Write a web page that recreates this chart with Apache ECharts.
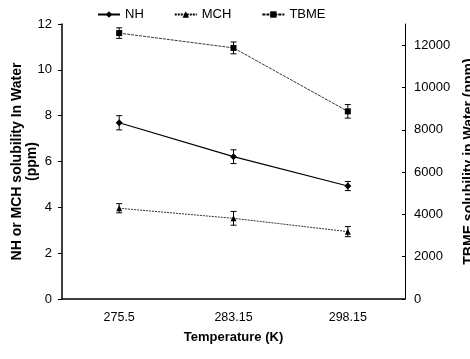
<!DOCTYPE html>
<html>
<head>
<meta charset="utf-8">
<script src="https://cdn.jsdelivr.net/npm/echarts@6/dist/echarts.min.js"></script>
<style>
  html, body { margin: 0; padding: 0; background: #fff; }
  #chart { width: 470px; height: 359px; }
</style>
</head>
<body>
<div id="chart"></div>
<script>
// temperatures (K) on the x axis
const temps = ['275.5', '283.15', '298.15'];
// NH and MCH solubility, ppm (left axis)
const nh = [7.69, 6.21, 4.93];
const nhErr = [0.31, 0.3, 0.2];
const mch = [3.96, 3.52, 2.94];
const mchErr = [0.2, 0.3, 0.22];
// TBME solubility, ppm (right axis)
const tbme = [12570, 11870, 8870];
const tbmeErr = [250, 280, 320];
// tick labels
const leftTicks = [0, 2, 4, 6, 8, 10, 12];
const rightTicks = [0, 2000, 4000, 6000, 8000, 10000, 12000];

const font = 'Liberation Sans, Arial, sans-serif';

// error bar rows: [index, low, high]
function errRows(vals, errs) {
  return vals.map((v, i) => [i, v - errs[i], v + errs[i]]);
}

function errorBar(params, api) {
  const lo = api.coord([api.value(0), api.value(1)]);
  const hi = api.coord([api.value(0), api.value(2)]);
  const w = 3;
  const style = { stroke: '#000', lineWidth: 1 };
  return {
    type: 'group',
    children: [
      { type: 'line', shape: { x1: lo[0], y1: lo[1], x2: hi[0], y2: hi[1] }, style: style },
      { type: 'line', shape: { x1: lo[0] - w, y1: lo[1], x2: lo[0] + w, y2: lo[1] }, style: style },
      { type: 'line', shape: { x1: hi[0] - w, y1: hi[1], x2: hi[0] + w, y2: hi[1] }, style: style }
    ]
  };
}

const chart = echarts.init(document.getElementById('chart'));
const option = {
  animation: false,
  backgroundColor: '#fff',
  textStyle: { fontFamily: font, color: '#000' },
  legend: {
    data: ['NH', 'MCH', 'TBME'],
    top: 3,
    left: 92,
    itemWidth: 22,
    itemHeight: 8,
    itemGap: 30,
    textStyle: { fontFamily: font, fontSize: 13, color: '#000' }
  },
  grid: { left: 62, right: 65, top: 24, bottom: 60, outerBoundsMode: 'none' },
  xAxis: {
    type: 'category',
    data: temps,
    boundaryGap: true,
    name: 'Temperature (K)',
    nameLocation: 'middle',
    nameGap: 32,
    nameTextStyle: { fontFamily: font, fontSize: 13, fontWeight: 'bold', color: '#000' },
    axisLine: { lineStyle: { color: '#000', width: 1.5 } },
    axisTick: { length: 4, lineStyle: { color: '#000' } },
    axisLabel: { fontFamily: font, fontSize: 12.5, color: '#000', margin: 12 }
  },
  yAxis: [
    {
      type: 'value',
      min: 0,
      max: 12,
      interval: 2,
      name: 'NH or MCH solubility In Water\n(ppm)',
      nameLocation: 'middle',
      nameRotate: 90,
      nameGap: 22,
      nameMoveOverlap: false,
      nameTextStyle: { fontFamily: font, fontSize: 14, fontWeight: 'bold', color: '#000', lineHeight: 15 },
      axisLine: { show: true, lineStyle: { color: '#000', width: 1.5 } },
      axisTick: { show: true, length: 4, lineStyle: { color: '#000' } },
      axisLabel: { fontFamily: font, fontSize: 13, color: '#000', margin: 10, customValues: leftTicks },
      splitLine: { show: false }
    },
    {
      type: 'value',
      min: 0,
      max: 13000,
      name: 'TBME solubility in Water (ppm)',
      nameLocation: 'middle',
      nameRotate: 90,
      nameGap: 57,
      nameMoveOverlap: false,
      nameTextStyle: { fontFamily: font, fontSize: 14, fontWeight: 'bold', color: '#000' },
      axisLine: { show: true, lineStyle: { color: '#000', width: 1 } },
      axisTick: { show: true, inside: true, length: 3, lineStyle: { color: '#000' }, customValues: rightTicks },
      axisLabel: {
        fontFamily: font, fontSize: 13, color: '#000', margin: 9, customValues: rightTicks,
        formatter: (v) => String(v)
      },
      splitLine: { show: false }
    }
  ],
  series: [
    {
      name: 'NH', type: 'line', yAxisIndex: 0, data: nh,
      symbol: 'diamond', symbolSize: 7,
      itemStyle: { color: '#000' },
      lineStyle: { color: '#000', width: 1.2, type: 'solid' }
    },
    {
      name: 'MCH', type: 'line', yAxisIndex: 0, data: mch,
      symbol: 'triangle', symbolSize: 6,
      itemStyle: { color: '#000' },
      lineStyle: { color: '#000', width: 0.8, type: [2, 1] }
    },
    {
      name: 'TBME', type: 'line', yAxisIndex: 1, data: tbme,
      symbol: 'rect', symbolSize: 6,
      itemStyle: { color: '#000' },
      lineStyle: { color: '#000', width: 0.8, type: [3, 1] }
    },
    { name: 'nhErr', type: 'custom', yAxisIndex: 0, renderItem: errorBar, data: errRows(nh, nhErr), z: 3 },
    { name: 'mchErr', type: 'custom', yAxisIndex: 0, renderItem: errorBar, data: errRows(mch, mchErr), z: 3 },
    { name: 'tbmeErr', type: 'custom', yAxisIndex: 1, renderItem: errorBar, data: errRows(tbme, tbmeErr), z: 3 }
  ]
};
chart.setOption(option);
</script>
</body>
</html>
